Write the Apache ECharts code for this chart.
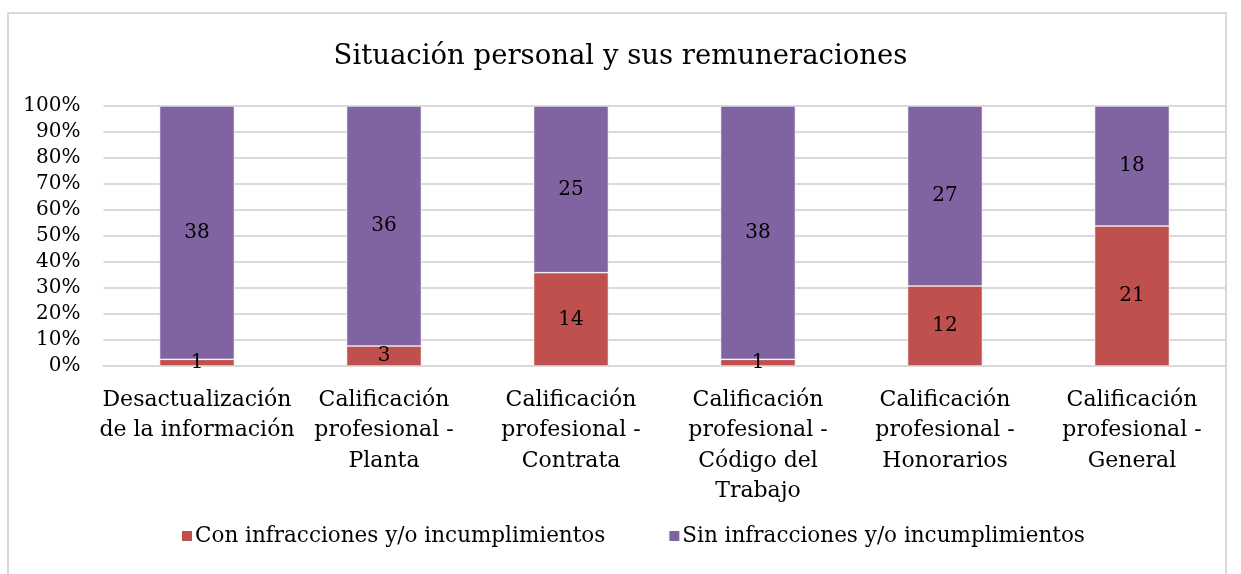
<!DOCTYPE html>
<html>
<head>
<meta charset="utf-8">
<title>Situación personal y sus remuneraciones</title>
<script src="https://cdn.jsdelivr.net/npm/echarts@6/dist/echarts.min.js"></script>
<style>
	html,body{margin:0;padding:0;background:#fff;}
	#main{width:1241px;height:574px;}
</style>
</head>
<body>
<div id="main"></div>
<script type="text/javascript">
// categorias y conteos
var categories = [
	'Desactualización\nde la información',
	'Calificación\nprofesional -\nPlanta',
	'Calificación\nprofesional -\nContrata',
	'Calificación\nprofesional -\nCódigo del\nTrabajo',
	'Calificación\nprofesional -\nHonorarios',
	'Calificación\nprofesional -\nGeneral'
];
var conInfracciones = [1, 3, 14, 1, 12, 21];
var sinInfracciones = [38, 36, 25, 38, 27, 18];
var yTicks = [0, 10, 20, 30, 40, 50, 60, 70, 80, 90, 100];

// porcentajes para la barra apilada al 100%
function pct(arr, i){
	return arr[i] / (conInfracciones[i] + sinInfracciones[i]) * 100;
}
var conPct = conInfracciones.map(function(v, i){ return pct(conInfracciones, i); });
var sinPct = sinInfracciones.map(function(v, i){ return pct(sinInfracciones, i); });

var font = '"DejaVu Serif", "Liberation Serif", serif';

var myChart = echarts.init(document.getElementById('main'));
var option = {
	animation: false,
	textStyle: {fontFamily: font},
	graphic: [{
		type: 'rect',
		shape: {x: 8, y: 13, width: 1218, height: 600},
		style: {fill: 'none', stroke: '#d9d9d9', lineWidth: 2},
		silent: true
	}],
	title: {
		text: 'Situación personal y sus remuneraciones',
		left: 'center',
		top: 38,
		textStyle: {fontFamily: font, fontSize: 27.5, fontWeight: 'normal', color: '#000'}
	},
	legend: {
		bottom: 22,
		left: 175,
		icon: 'rect',
		itemWidth: 12,
		itemHeight: 12,
		itemGap: 62,
		textStyle: {fontFamily: font, fontSize: 21.5, color: '#000', padding: [0, 0, 0, -3]},
		data: ['Con infracciones y/o incumplimientos', 'Sin infracciones y/o incumplimientos']
	},
	grid: {left: 103.5, right: 15.5, top: 106, bottom: 208, containLabel: false},
	xAxis: {
		type: 'category',
		data: categories,
		axisLine: {lineStyle: {color: '#d9d9d9', width: 2}},
		axisTick: {show: false},
		axisLabel: {interval: 0, margin: 19, lineHeight: 30.5, fontSize: 22, color: '#000', fontFamily: font}
	},
	yAxis: {
		type: 'value',
		min: yTicks[0],
		max: yTicks[yTicks.length - 1],
		interval: 10,
		axisLabel: {formatter: '{value}%', fontSize: 20, color: '#000', margin: 23, fontFamily: font},
		splitLine: {lineStyle: {color: '#d9d9d9', width: 2}},
		axisLine: {show: false},
		axisTick: {show: false}
	},
	series: [{
		name: 'Con infracciones y/o incumplimientos',
		type: 'bar',
		stack: 'total',
		barWidth: '40%',
		data: conPct,
		itemStyle: {color: '#c0504d', borderColor: '#fff', borderWidth: 0.6},
		label: {
			show: true, position: 'inside', fontSize: 20, color: '#000', fontFamily: font,
			formatter: function(p){ return conInfracciones[p.dataIndex]; }
		}
	}, {
		name: 'Sin infracciones y/o incumplimientos',
		type: 'bar',
		stack: 'total',
		barWidth: '40%',
		data: sinPct,
		itemStyle: {color: '#8064a2', borderColor: '#fff', borderWidth: 0.6},
		label: {
			show: true, position: 'inside', fontSize: 20, color: '#000', fontFamily: font,
			formatter: function(p){ return sinInfracciones[p.dataIndex]; }
		}
	}]
};
myChart.setOption(option);
</script>
</body>
</html>
